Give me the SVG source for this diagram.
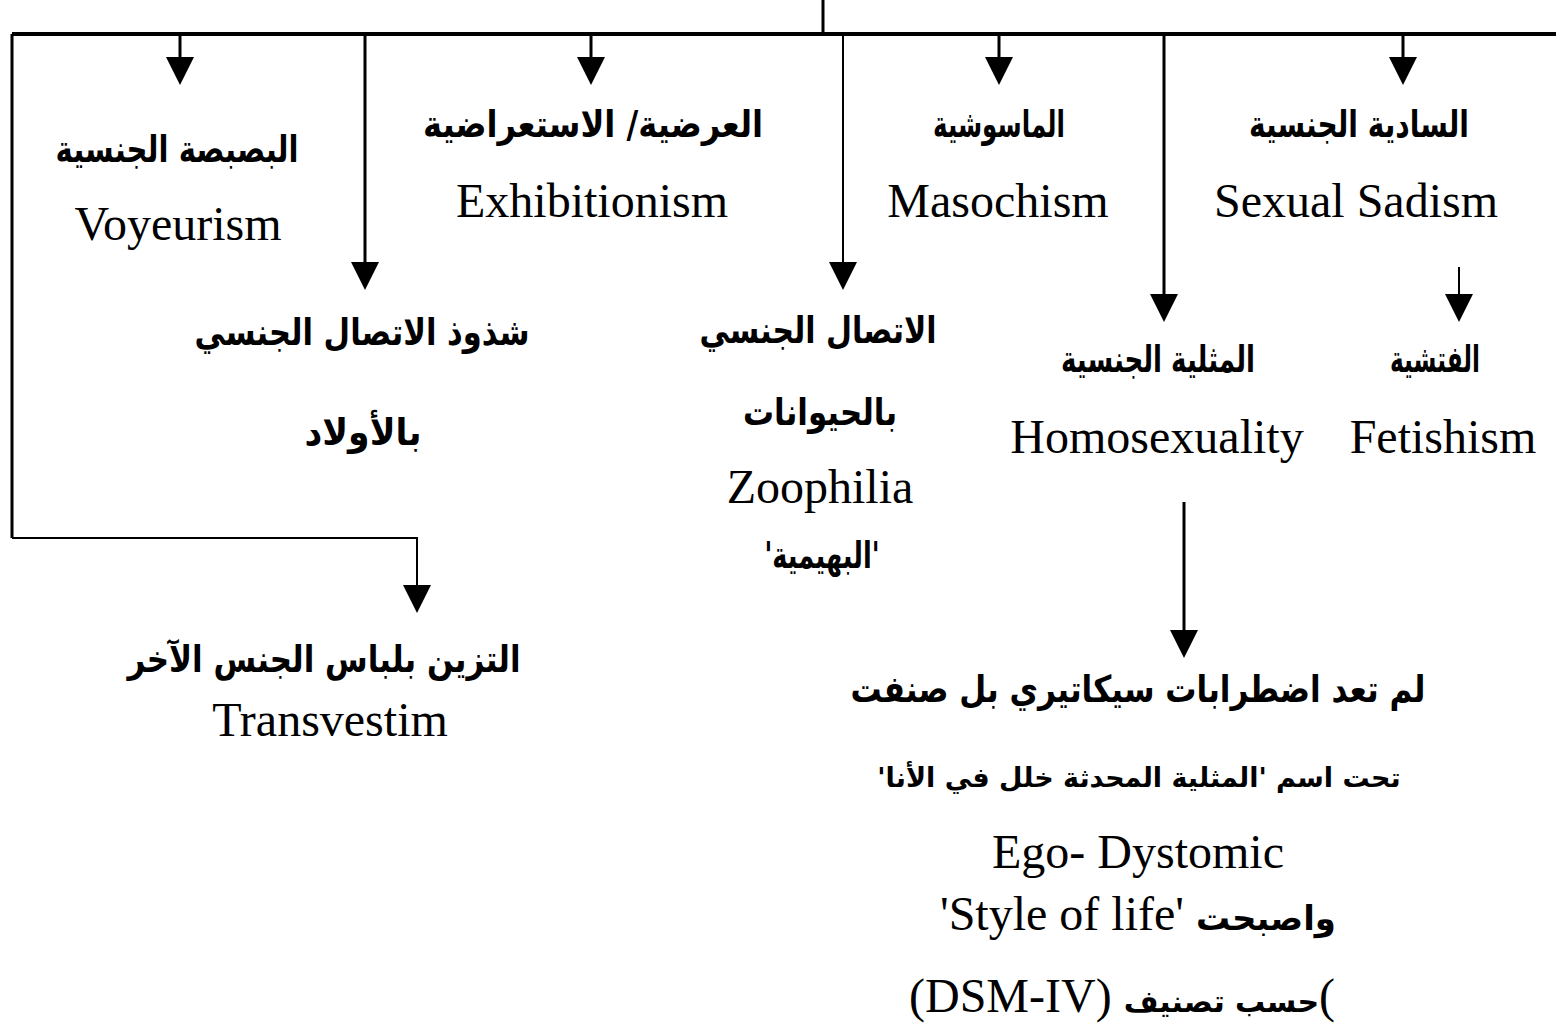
<svg xmlns="http://www.w3.org/2000/svg" width="1556" height="1025" viewBox="0 0 1556 1025">
  <style>
    .en { font-family: "Liberation Serif", "Times New Roman", serif; font-size: 48px; fill: #000; text-anchor: middle; }
    .ar { font-family: "DejaVu Sans", sans-serif; font-size: 37px; font-weight: bold; fill: #000; text-anchor: middle; direction: rtl; }
    .arin { font-family: "DejaVu Sans", sans-serif; font-size: 34px; font-weight: bold; }
    .ln { fill: none; stroke: #000; stroke-width: 3; }
    .thick { stroke-width: 4; }
    .thin { stroke-width: 2; }
  </style>
  <defs>
    <marker id="arrow" markerUnits="userSpaceOnUse" markerWidth="28" markerHeight="28" viewBox="0 0 28 28" refX="18" refY="14" orient="auto">
      <path d="M0,0 L28,14 L0,28 Z" fill="#000"/>
    </marker>
  </defs>
  <rect width="1556" height="1025" fill="#fff"/>

  <g id="connectors">
    <!-- trunk from above and main bus -->
    <path class="ln" d="M823,0 V34"/>
    <path class="ln thick" d="M12,34 H1556"/>
    <!-- left rail down to the transvestism branch -->
    <path class="ln" d="M12,34 V538"/>
    <path class="ln thin" d="M12,538 H417 V603" marker-end="url(#arrow)"/>
    <!-- drops from the bus -->
    <path class="ln" d="M180,34 V75" marker-end="url(#arrow)"/>
    <path class="ln" d="M365,34 V280" marker-end="url(#arrow)"/>
    <path class="ln" d="M591,34 V75" marker-end="url(#arrow)"/>
    <path class="ln thin" d="M843,34 V280" marker-end="url(#arrow)"/>
    <path class="ln" d="M999,34 V75" marker-end="url(#arrow)"/>
    <path class="ln" d="M1164,34 V312" marker-end="url(#arrow)"/>
    <path class="ln" d="M1403,34 V75" marker-end="url(#arrow)"/>
    <!-- sadism to fetishism -->
    <path class="ln thin" d="M1459,267 V312" marker-end="url(#arrow)"/>
    <!-- homosexuality to DSM note -->
    <path class="ln" d="M1184,502 V648" marker-end="url(#arrow)"/>
  </g>

  <g id="voyeurism">
    <text class="ar" x="177" y="162" textLength="243" lengthAdjust="spacingAndGlyphs">البصبصة الجنسية</text>
    <text class="en" x="178" y="240">Voyeurism</text>
  </g>

  <g id="exhibitionism">
    <text class="ar" x="593" y="137" textLength="340" lengthAdjust="spacingAndGlyphs">العرضية/ الاستعراضية</text>
    <text class="en" x="592" y="217">Exhibitionism</text>
  </g>

  <g id="masochism">
    <text class="ar" x="999" y="137" textLength="132" lengthAdjust="spacingAndGlyphs">الماسوشية</text>
    <text class="en" x="998" y="217">Masochism</text>
  </g>

  <g id="sadism">
    <text class="ar" x="1359" y="137" textLength="220" lengthAdjust="spacingAndGlyphs">السادية الجنسية</text>
    <text class="en" x="1356" y="217">Sexual Sadism</text>
  </g>

  <g id="pedophilia">
    <text class="ar" x="362" y="345" textLength="335" lengthAdjust="spacingAndGlyphs">شذوذ الاتصال الجنسي</text>
    <text class="ar" x="363" y="445" textLength="117" lengthAdjust="spacingAndGlyphs">بالأولاد</text>
  </g>

  <g id="zoophilia">
    <text class="ar" x="818" y="343" textLength="237" lengthAdjust="spacingAndGlyphs">الاتصال الجنسي</text>
    <text class="ar" x="820" y="425" textLength="154" lengthAdjust="spacingAndGlyphs">بالحيوانات</text>
    <text class="en" x="820" y="503">Zoophilia</text>
    <text class="ar" x="822" y="568" textLength="115" lengthAdjust="spacingAndGlyphs">'البهيمية'</text>
  </g>

  <g id="homosexuality">
    <text class="ar" x="1158" y="372" textLength="194" lengthAdjust="spacingAndGlyphs">المثلية الجنسية</text>
    <text class="en" x="1157" y="453">Homosexuality</text>
  </g>

  <g id="fetishism">
    <text class="ar" x="1435" y="372" textLength="90" lengthAdjust="spacingAndGlyphs">الفتشية</text>
    <text class="en" x="1443" y="453">Fetishism</text>
  </g>

  <g id="transvestism">
    <text class="ar" x="324" y="672" textLength="393" lengthAdjust="spacingAndGlyphs">التزين بلباس الجنس الآخر</text>
    <text class="en" x="330" y="736">Transvestim</text>
  </g>

  <g id="ego-dystonic">
    <text class="ar" x="1138" y="702" textLength="575" lengthAdjust="spacingAndGlyphs">لم تعد اضطرابات سيكاتيري بل صنفت</text>
    <text class="ar" x="1139" y="787" style="font-size:27px">تحت اسم 'المثلية المحدثة خلل في الأنا'</text>
    <text class="en" x="1138" y="868">Ego- Dystomic</text>
    <text class="en" x="1138" y="930">'Style of life' <tspan class="arin">واصبحت</tspan></text>
    <text class="en" x="1122" y="1012">(DSM-IV) <tspan class="arin" style="font-size:30px">حسب تصنيف</tspan>(</text>
  </g>
</svg>
